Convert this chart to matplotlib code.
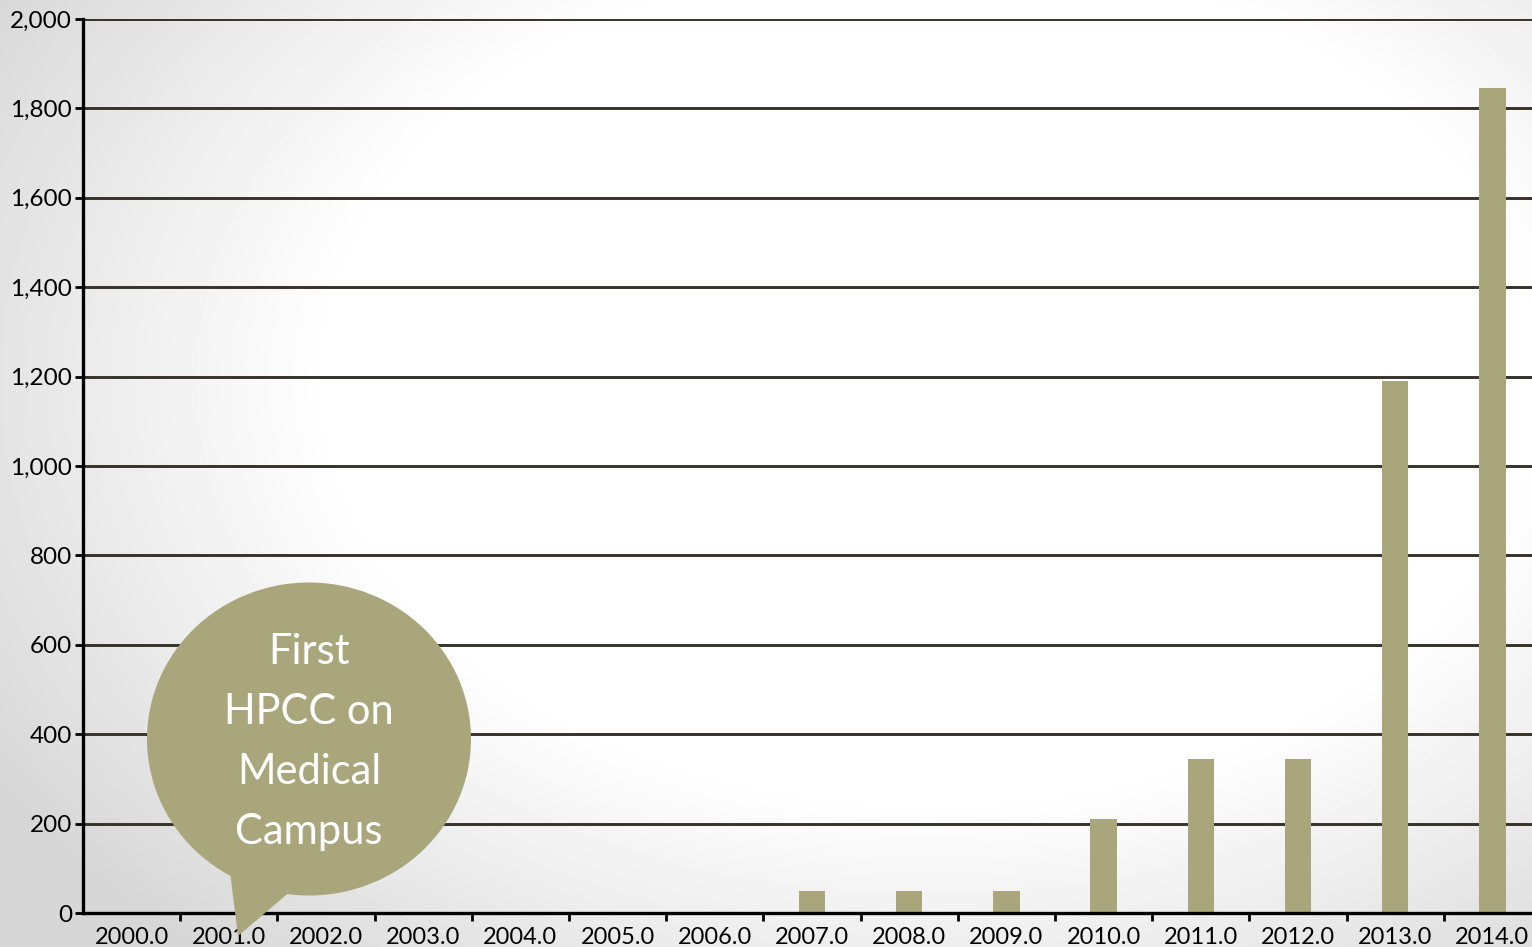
import numpy as np
import matplotlib.pyplot as plt
from matplotlib.patches import Ellipse, Polygon

plt.rcParams["font.family"] = ["Lato", "DejaVu Sans"]

years = [2000.0, 2001.0, 2002.0, 2003.0, 2004.0, 2005.0, 2006.0, 2007.0,
         2008.0, 2009.0, 2010.0, 2011.0, 2012.0, 2013.0, 2014.0]
counts = [0, 0, 0, 0, 0, 0, 0, 50, 50, 50, 210, 345, 345, 1190, 1845]
y_ticks = [0, 200, 400, 600, 800, 1000, 1200, 1400, 1600, 1800, 2000]
callout_text = "First\nHPCC on\nMedical\nCampus"

bar_color = "#a9a67c"
W, H = 1532, 947

fig = plt.figure(figsize=(W / 100, H / 100), dpi=100)

# soft radial background: white in the middle, grey towards the corners
bg = fig.add_axes([0, 0, 1, 1], zorder=-10)
yy, xx = np.mgrid[0:H, 0:W]
r = np.sqrt(((xx - 930) / 1000.0) ** 2 + ((yy - 380) / 700.0) ** 2)
shade = np.clip((r - 0.6) / 0.5, 0, 1)
img = 1.0 - 0.16 * shade
bg.imshow(img, cmap="gray", vmin=0, vmax=1, aspect="auto", interpolation="bilinear")
bg.axis("off")

ax = fig.add_axes([83 / W, 1 - 913 / H, 1458 / W, 894 / H])
ax.patch.set_alpha(0)

x = np.arange(len(years))
ax.bar(x, counts, width=0.27, color=bar_color, zorder=3)

ax.set_xlim(-0.5, len(years) - 0.5)
ax.set_ylim(0, 2000)
ax.set_yticks(y_ticks)
ax.set_yticklabels(["{:,}".format(v) for v in y_ticks])
ax.set_xticks(x)
ax.set_xticklabels(["%.1f" % y for y in years])
ax.set_xticks(np.arange(0.5, len(years) - 0.5), minor=True)

ax.tick_params(axis="x", which="major", length=0, labelsize=17, pad=10)
ax.tick_params(axis="x", which="minor", length=6, width=2, direction="out")
ax.tick_params(axis="y", length=6, width=2, labelsize=17.5, pad=2)

ax.yaxis.grid(True, color="#36322a", linewidth=2.1, zorder=1)
ax.set_axisbelow(True)
for side in ["top", "right"]:
    ax.spines[side].set_visible(False)
for side in ["left", "bottom"]:
    ax.spines[side].set_linewidth(2.4)
    ax.spines[side].set_color("black")
    ax.spines[side].set_zorder(4)

# speech bubble callout
tf = fig.transFigure
bubble = Ellipse((309 / W, 1 - 739 / H), 324 / W, 313 / H,
                 transform=tf, facecolor=bar_color, edgecolor="none", zorder=20)
tail = Polygon([(230 / W, 1 - 872 / H), (238 / W, 1 - 936 / H), (292 / W, 1 - 890 / H)],
               closed=True, transform=tf, facecolor=bar_color, edgecolor="none", zorder=20)
fig.patches.extend([bubble, tail])
fig.text(309 / W, 1 - 742 / H, callout_text, color="white", fontsize=30,
         ha="center", va="center", linespacing=1.72, zorder=21)

fig.savefig("out.png", dpi=100)
